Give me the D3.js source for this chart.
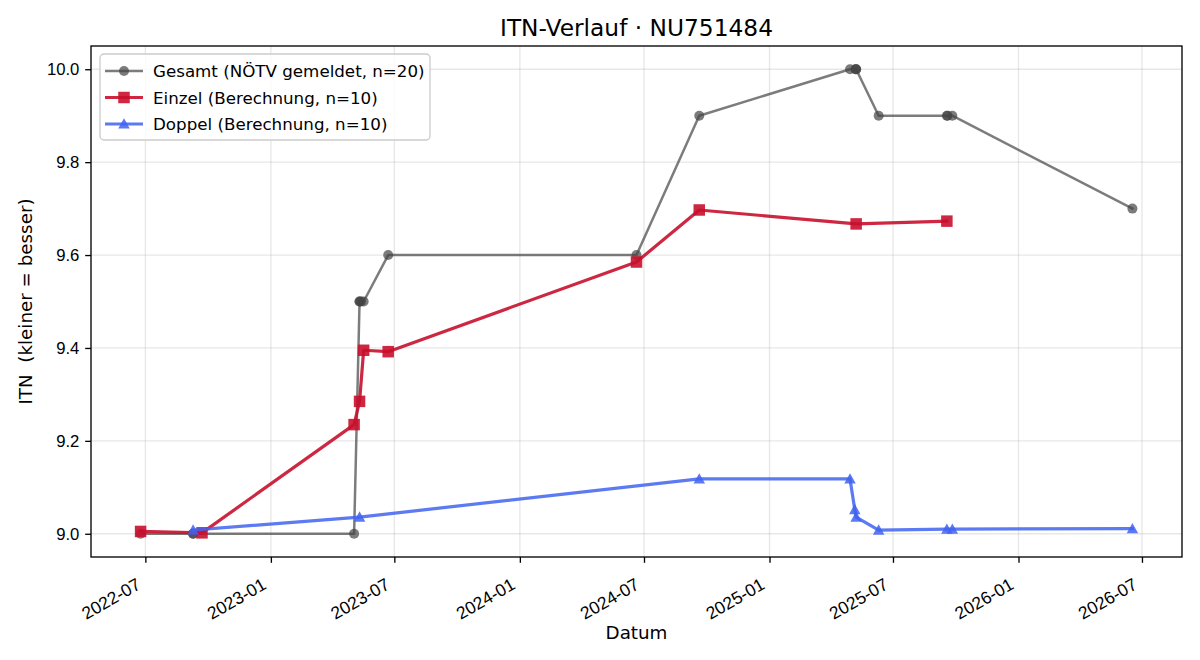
<!DOCTYPE html>
<html>
<head>
<meta charset="utf-8">
<script src="https://cdn.jsdelivr.net/npm/d3@7"></script>
<style>
  html, body { margin: 0; padding: 0; background: #fff; }
  svg { display: block; font-family: "DejaVu Sans", sans-serif; }
</style>
</head>
<body>
<svg id="chart" width="1200" height="660"></svg>
<script>
// ---- Data ----
const gesamtDates = ["2022-06-24","2022-09-09","2022-09-09","2023-05-03","2023-05-11","2023-05-11","2023-05-13","2023-05-17","2023-06-22","2024-06-20","2024-09-20","2025-04-29","2025-05-07","2025-05-08","2025-05-08","2025-06-10","2025-09-18","2025-09-19","2025-09-26","2026-06-17"];
const gesamtValues = [9.0, 9.0, 9.0, 9.0, 9.5, 9.5, 9.5, 9.5, 9.6, 9.6, 9.9, 10.0, 10.0, 10.0, 10.0, 9.9, 9.9, 9.9, 9.9, 9.7];

const einzelDates = ["2022-06-24","2022-09-22","2023-05-03","2023-05-11","2023-05-17","2023-06-22","2024-06-20","2024-09-20","2025-05-08","2025-09-18"];
const einzelValues = [9.005, 9.002, 9.235, 9.285, 9.395, 9.392, 9.585, 9.697, 9.667, 9.673];

const doppelDates = ["2022-09-09","2023-05-11","2024-09-20","2025-04-29","2025-05-06","2025-05-08","2025-06-10","2025-09-18","2025-09-26","2026-06-17"];
const doppelValues = [9.008, 9.036, 9.118, 9.118, 9.052, 9.036, 9.008, 9.010, 9.010, 9.011];

const xTickDates = ["2022-07-01","2023-01-01","2023-07-01","2024-01-01","2024-07-01","2025-01-01","2025-07-01","2026-01-01","2026-07-01"];
const yTicks = [9.0, 9.2, 9.4, 9.6, 9.8, 10.0];

const titleText = "ITN-Verlauf · NU751484";
const xLabel = "Datum";
const yLabel = "ITN  (kleiner = besser)";
const legendLabels = ["Gesamt (NÖTV gemeldet, n=20)", "Einzel (Berechnung, n=10)", "Doppel (Berechnung, n=10)"];

// ---- Setup ----
const parse = d3.utcParse("%Y-%m-%d");
const fmt = d3.utcFormat("%Y-%m");
const zip = (ds, vs) => ds.map((d, i) => ({ date: parse(d), value: vs[i] }));

const series = [
  { name: legendLabels[0], data: zip(gesamtDates, gesamtValues), color: "#444444", opacity: 0.7, width: 2.5, marker: "circle", size: 10 },
  { name: legendLabels[1], data: zip(einzelDates, einzelValues), color: "#c8102e", opacity: 0.9, width: 3.2, marker: "square", size: 11.5 },
  { name: legendLabels[2], data: zip(doppelDates, doppelValues), color: "#3f63f0", opacity: 0.85, width: 3.2, marker: "triangle", size: 11.5 }
];

const svg = d3.select("#chart");
const L = 91, R = 1182, T = 46, B = 557;

const allDates = series.flatMap(s => s.data.map(d => +d.date));
const allVals = series.flatMap(s => s.data.map(d => d.value));
const dmin = d3.min(allDates), dmax = d3.max(allDates);
const dpad = (dmax - dmin) * 0.05;
const vmin = d3.min(allVals), vmax = d3.max(allVals);
const vpad = (vmax - vmin) * 0.05;

const x = d3.scaleUtc().domain([new Date(dmin - dpad), new Date(dmax + dpad)]).range([L, R]);
const y = d3.scaleLinear().domain([vmin - vpad, vmax + vpad]).range([B, T]);

const xTicks = xTickDates.map(parse);

// Grid
const grid = svg.append("g").attr("stroke", "#b0b0b0").attr("stroke-opacity", 0.3).attr("stroke-width", 1.33);
grid.selectAll(".gx").data(xTicks).join("line")
  .attr("x1", d => x(d)).attr("x2", d => x(d)).attr("y1", T).attr("y2", B);
grid.selectAll(".gy").data(yTicks).join("line")
  .attr("x1", L).attr("x2", R).attr("y1", d => y(d)).attr("y2", d => y(d));

// Marker generators
function markerPath(type, size) {
  const h = size / 2;
  if (type === "square") return `M${-h},${-h}H${h}V${h}H${-h}Z`;
  if (type === "triangle") return `M0,${-h}L${h},${h * 0.8}L${-h},${h * 0.8}Z`;
  return d3.symbol(d3.symbolCircle, Math.PI * h * h)();
}

const line = d3.line().x(d => x(d.date)).y(d => y(d.value));
const plot = svg.append("g");

series.forEach(s => {
  plot.append("path").datum(s.data)
    .attr("fill", "none").attr("stroke", s.color).attr("stroke-width", s.width)
    .attr("stroke-opacity", s.opacity).attr("stroke-linejoin", "round").attr("stroke-linecap", "square")
    .attr("d", line);
  plot.append("g").selectAll("path").data(s.data).join("path")
    .attr("transform", d => `translate(${x(d.date)},${y(d.value)})`)
    .attr("d", markerPath(s.marker, s.size))
    .attr("fill", s.color).attr("fill-opacity", s.opacity);
});

// Axes
const xAxis = d3.axisBottom(x).tickValues(xTicks).tickFormat(fmt).tickSize(5.8).tickPadding(5.8);
const gx = svg.append("g").attr("transform", `translate(0,${B})`).call(xAxis);
gx.select(".domain").remove();
gx.selectAll(".tick line").attr("stroke", "#000").attr("stroke-width", 1.33);
gx.selectAll(".tick text")
  .attr("font-size", 17.5).attr("fill", "#000")
  .attr("text-anchor", "end")
  .attr("dy", null).attr("y", null)
  .attr("transform", "translate(-4,31) rotate(-30)");

const yAxis = d3.axisLeft(y).tickValues(yTicks).tickFormat(d3.format(".1f")).tickSize(5.8).tickPadding(5.8);
const gy = svg.append("g").attr("transform", `translate(${L},0)`).call(yAxis);
gy.select(".domain").remove();
gy.selectAll(".tick line").attr("stroke", "#000").attr("stroke-width", 1.33);
gy.selectAll(".tick text").attr("font-size", 16.7).attr("fill", "#000");

// Frame
svg.append("rect").attr("x", L).attr("y", T).attr("width", R - L).attr("height", B - T)
  .attr("fill", "none").attr("stroke", "#000").attr("stroke-width", 1.33);

// Labels
svg.append("text").attr("x", (L + R) / 2).attr("y", 36).attr("text-anchor", "middle")
  .attr("font-size", 23.3).attr("fill", "#000").text(titleText);
svg.append("text").attr("x", (L + R) / 2).attr("y", 639).attr("text-anchor", "middle")
  .attr("font-size", 18.3).attr("fill", "#000").text(xLabel);
svg.append("text").attr("transform", `translate(32,${(T + B) / 2}) rotate(-90)`).attr("text-anchor", "middle")
  .style("white-space", "pre")
  .attr("font-size", 18.3).attr("fill", "#000").text(yLabel);

// Legend
const lg = svg.append("g");
lg.append("rect").attr("x", 100).attr("y", 54).attr("width", 330).attr("height", 86).attr("rx", 4)
  .attr("fill", "#fff").attr("fill-opacity", 0.8).attr("stroke", "#cccccc").attr("stroke-width", 1.33);
series.forEach((s, i) => {
  const yy = 71 + i * 26.5;
  lg.append("line").attr("x1", 105).attr("x2", 143).attr("y1", yy).attr("y2", yy)
    .attr("stroke", s.color).attr("stroke-width", s.width).attr("stroke-opacity", s.opacity);
  lg.append("path").attr("transform", `translate(124,${yy})`).attr("d", markerPath(s.marker, s.size))
    .attr("fill", s.color).attr("fill-opacity", s.opacity);
  lg.append("text").attr("x", 153).attr("y", yy + 6).attr("font-size", 16.7).attr("fill", "#000").text(s.name);
});
</script>
</body>
</html>
